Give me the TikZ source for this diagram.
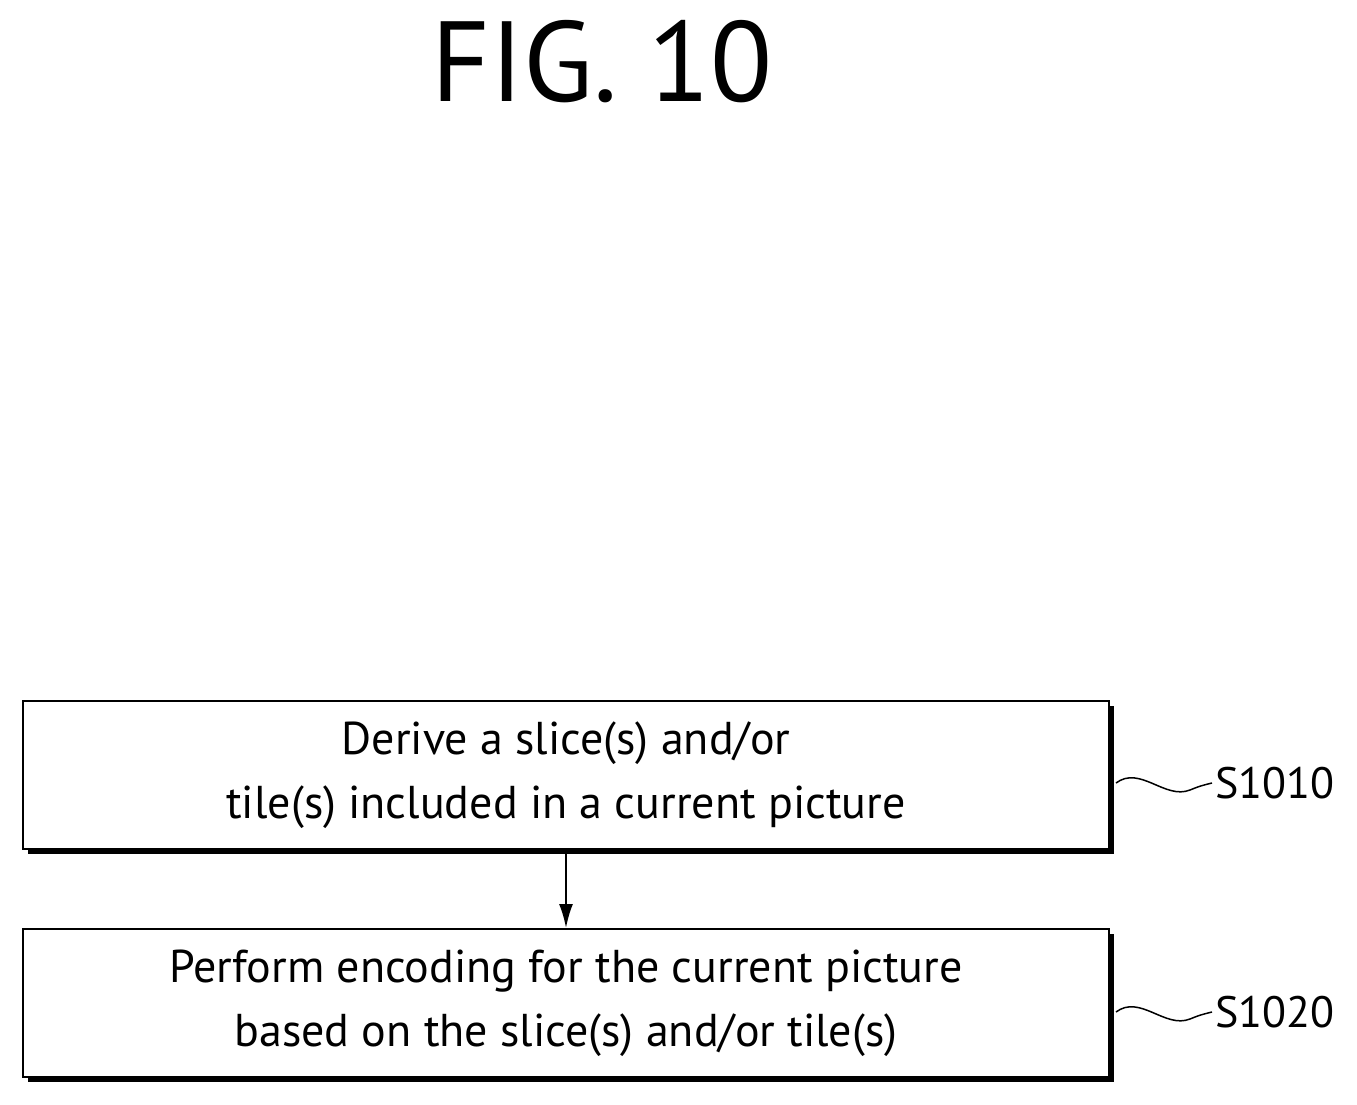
\documentclass[tikz,border=0pt]{standalone}
\usetikzlibrary{arrows.meta}
\usepackage{fontspec}
\setmainfont{PT Sans}
\begin{document}
\begin{tikzpicture}[x=1pt,y=-1pt,
  box/.style={draw,line width=2pt,fill=white,minimum width=1086pt,minimum height=148pt,anchor=north west,inner sep=0pt,align=center,font=\fontsize{46}{64}\selectfont},
  shadow/.style={fill=black,minimum width=1086pt,minimum height=148pt,anchor=north west,inner sep=0pt},
  lab/.style={font=\fontsize{44}{50}\selectfont,anchor=west}]
\useasboundingbox (0,0) rectangle (1357,1105);
\node[font=\fontsize{114}{120}\selectfont] (t) at (602,62) {FIG. 10};
\node[shadow] at (28,706) {};
\node[box] (b1) at (22,700) {\raisebox{-8pt}{\parbox{1000pt}{\centering Derive a slice(s) and/or\\tile(s) included in a current picture}}};
\node[shadow] at (28,934) {};
\node[box] (b2) at (22,928) {\raisebox{-8pt}{\parbox{1000pt}{\centering Perform encoding for the current picture\\based on the slice(s) and/or tile(s)}}};
\draw[line width=2pt,-{Latex[length=24pt,width=14pt]}] (b1.south) -- (b2.north);
\node[lab] (l1) at (1212,783) {S1010};
\node[lab] (l2) at (1212,1012) {S1020};
\draw[line width=1.5pt] (1116,783) .. controls (1140,765) and (1165,800) .. (1190,790) .. controls (1200,786) .. (l1.west);
\draw[line width=1.5pt] (1116,1012) .. controls (1140,994) and (1165,1029) .. (1190,1019) .. controls (1200,1015) .. (l2.west);
\end{tikzpicture}
\end{document}
